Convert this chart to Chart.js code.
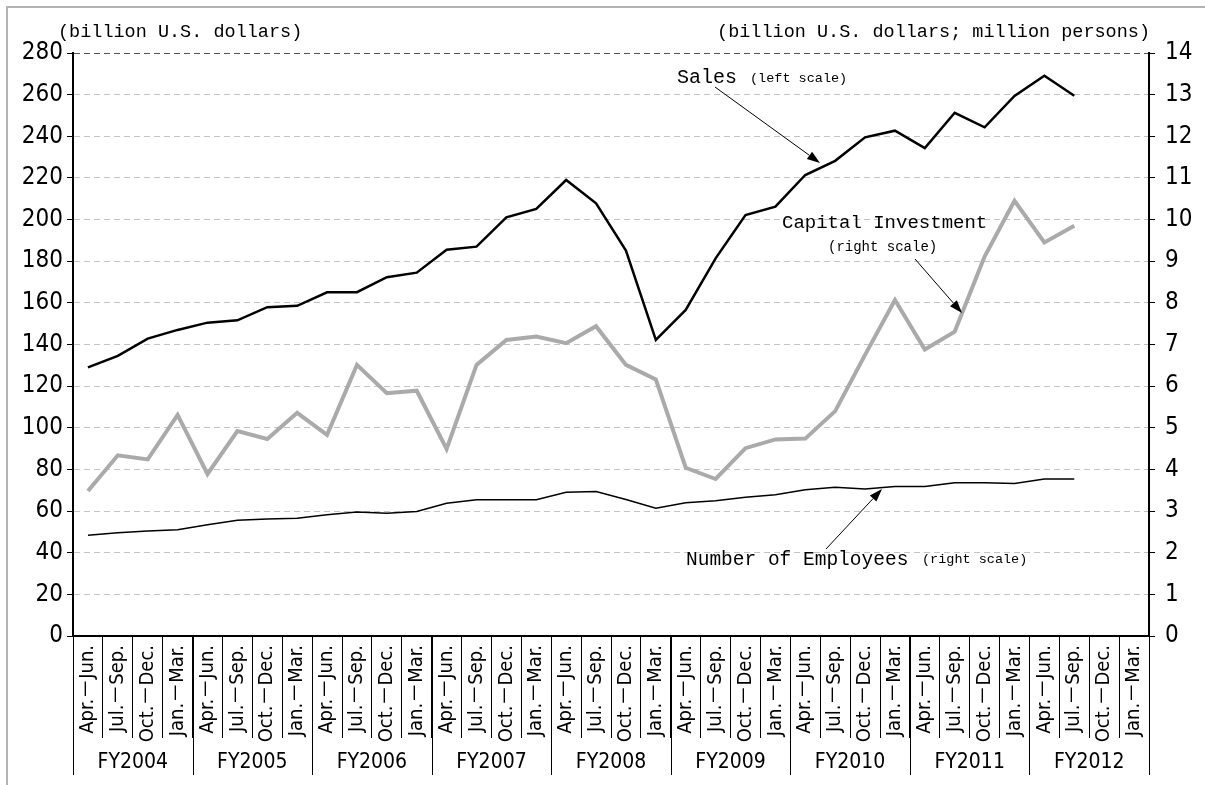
<!DOCTYPE html>
<html>
<head>
<meta charset="utf-8">
<script src="https://cdn.jsdelivr.net/npm/chart.js@4/dist/chart.umd.min.js"></script>
<style>
  html, body { margin: 0; padding: 0; background: #fff; }
  #wrap { width: 1205px; height: 785px; }
</style>
</head>
<body>
<div id="wrap"><canvas id="chart" width="1205" height="785"></canvas></div>
<script>
// quarters on the x axis (4 per fiscal year, FY2004 - FY2012)
const quarters = ['Apr.－Jun.', 'Jul.－Sep.', 'Oct.－Dec.', 'Jan.－Mar.'];
const fiscalYears = ['FY2004', 'FY2005', 'FY2006', 'FY2007', 'FY2008', 'FY2009', 'FY2010', 'FY2011', 'FY2012'];
const quarterLabels = fiscalYears.flatMap(() => quarters);

// Sales, billion U.S. dollars (left scale)
const sales = [129, 134.5, 142.8, 147, 150.5, 151.6, 157.9, 158.6, 165.1, 165.1, 172.3, 174.5,
  185.5, 187, 201.1, 205.1, 219, 207.8, 185.1, 142.2, 156.6, 181.4, 202.2, 206.2,
  221.4, 228.2, 239.5, 242.7, 234.3, 251.3, 244.3, 259.4, 269.1, 259.5];

// Capital investment, billion U.S. dollars (right scale)
const capitalInvestment = [3.48, 4.34, 4.24, 5.31, 3.89, 4.92, 4.73, 5.36, 4.83, 6.51, 5.83, 5.89,
  4.49, 6.51, 7.11, 7.19, 7.03, 7.44, 6.51, 6.16, 4.04, 3.77, 4.51, 4.72,
  4.74, 5.4, 6.75, 8.07, 6.88, 7.31, 9.11, 10.45, 9.45, 9.85];

// Number of employees, million persons (right scale)
const employees = [2.42, 2.48, 2.52, 2.55, 2.67, 2.78, 2.81, 2.83, 2.91, 2.98, 2.95, 2.99,
  3.19, 3.27, 3.27, 3.27, 3.45, 3.47, 3.28, 3.07, 3.2, 3.25, 3.33, 3.39,
  3.51, 3.57, 3.53, 3.59, 3.59, 3.68, 3.68, 3.66, 3.77, 3.77];

const leftTicks = { min: 0, max: 280, step: 20 };
const rightTicks = { min: 0, max: 14, step: 1 };

const narrow = "'Liberation Sans Narrow', 'DejaVu Sans Condensed', 'Noto Sans CJK JP', sans-serif";
const mono = "'Liberation Mono', 'DejaVu Sans Mono', monospace";

function arrow(c, x1, y1, x2, y2) {
  const a = Math.atan2(y2 - y1, x2 - x1);
  const len = 13, w = 4.5;
  c.beginPath();
  c.moveTo(x1, y1);
  c.lineTo(x2 - Math.cos(a) * len, y2 - Math.sin(a) * len);
  c.stroke();
  c.beginPath();
  c.moveTo(x2, y2);
  c.lineTo(x2 - Math.cos(a) * len + Math.sin(a) * w, y2 - Math.sin(a) * len - Math.cos(a) * w);
  c.lineTo(x2 - Math.cos(a) * len - Math.sin(a) * w, y2 - Math.sin(a) * len + Math.cos(a) * w);
  c.closePath();
  c.fill();
}

// frame, fiscal year row, unit titles and the call-out labels
const decorations = {
  id: 'decorations',
  beforeDraw(chart) {
    const c = chart.ctx;
    c.save();
    c.fillStyle = '#fff';
    c.fillRect(0, 0, chart.width, chart.height);
    c.strokeStyle = '#b4b4b4';
    c.lineWidth = 2;
    c.beginPath();
    c.moveTo(7, chart.height);
    c.lineTo(7, 7);
    c.lineTo(chart.width, 7);
    c.stroke();
    c.restore();
  },
  afterDraw(chart) {
    const c = chart.ctx;
    const x = chart.scales.x;
    const area = chart.chartArea;
    const half = (x.getPixelForValue(1) - x.getPixelForValue(0)) / 2;
    c.save();

    // fiscal year groups under the quarter labels
    c.strokeStyle = '#000';
    c.lineWidth = 1;
    for (let k = 0; k <= fiscalYears.length; k++) {
      const px = Math.round(x.getPixelForValue(k * 4) - half) + 0.5;
      c.beginPath();
      c.moveTo(px, area.bottom);
      c.lineTo(px, 775);
      c.stroke();
    }
    c.fillStyle = '#000';
    c.font = '21px ' + narrow;
    c.textAlign = 'center';
    c.textBaseline = 'alphabetic';
    fiscalYears.forEach((fy, k) => {
      const px = (x.getPixelForValue(k * 4) + x.getPixelForValue(k * 4 + 3)) / 2;
      c.fillText(fy, px, 768);
    });

    // unit titles
    c.font = '18.5px ' + mono;
    c.textAlign = 'left';
    c.fillText('(billion U.S. dollars)', 58, 37);
    c.textAlign = 'right';
    c.fillText('(billion U.S. dollars; million persons)', 1150, 37);

    // call-outs
    c.textAlign = 'left';
    c.font = '20px ' + mono;
    c.fillText('Sales', 677, 83);
    c.font = '13.5px ' + mono;
    c.fillText('(left scale)', 750, 82);

    c.font = '19px ' + mono;
    c.fillText('Capital Investment', 782, 228);
    c.font = '14px ' + mono;
    c.fillText('(right scale)', 828, 251);

    c.font = '19.5px ' + mono;
    c.fillText('Number of Employees', 686, 565);
    c.font = '13.5px ' + mono;
    c.fillText('(right scale)', 922, 563);

    c.lineWidth = 1;
    arrow(c, 715, 87, 820, 163);
    arrow(c, 915, 259, 962, 313);
    arrow(c, 826, 549, 882, 489);

    c.restore();
  }
};

new Chart(document.getElementById('chart'), {
  type: 'line',
  data: {
    labels: quarterLabels,
    datasets: [
      {
        label: 'Sales (left scale)',
        data: sales,
        yAxisID: 'y',
        borderColor: '#000',
        borderWidth: 2.5,
        pointRadius: 0,
        tension: 0
      },
      {
        label: 'Capital Investment (right scale)',
        data: capitalInvestment,
        yAxisID: 'y1',
        borderColor: '#aaaaaa',
        borderWidth: 4,
        pointRadius: 0,
        tension: 0
      },
      {
        label: 'Number of Employees (right scale)',
        data: employees,
        yAxisID: 'y1',
        borderColor: '#000',
        borderWidth: 1.5,
        pointRadius: 0,
        tension: 0
      }
    ]
  },
  options: {
    responsive: false,
    animation: false,
    devicePixelRatio: 1,
    layout: { padding: { top: 53, left: 0, right: 0, bottom: 0 } },
    plugins: {
      legend: { display: false },
      tooltip: { enabled: false }
    },
    scales: {
      x: {
        offset: true,
        grid: {
          offset: true,
          drawOnChartArea: false,
          drawTicks: true,
          tickLength: 102,
          tickColor: '#000',
          tickWidth: 1
        },
        border: { display: true, color: '#000', width: 2 },
        ticks: {
          autoSkip: false,
          minRotation: 90,
          maxRotation: 90,
          padding: -93,
          color: '#000',
          font: { family: narrow, size: 20 }
        },
        afterFit(s) { s.height = 149; }
      },
      y: {
        position: 'left',
        min: leftTicks.min,
        max: leftTicks.max,
        ticks: {
          stepSize: leftTicks.step,
          color: '#000',
          padding: 4,
          font: { family: narrow, size: 24 }
        },
        grid: {
          color: ctx => (ctx.tick && ctx.tick.value === leftTicks.max ? '#555' : '#c4c4c4'),
          lineWidth: 1,
          tickLength: 6,
          tickColor: '#000',
          tickBorderDash: []
        },
        border: { display: true, color: '#000', width: 2, dash: [6, 4] },
        afterFit(s) { s.width = 73; }
      },
      y1: {
        position: 'right',
        min: rightTicks.min,
        max: rightTicks.max,
        ticks: {
          stepSize: rightTicks.step,
          color: '#000',
          padding: 10,
          font: { family: narrow, size: 24 }
        },
        grid: {
          drawOnChartArea: false,
          tickLength: 6,
          tickColor: '#000'
        },
        border: { display: true, color: '#000', width: 2 },
        afterFit(s) { s.width = 56; }
      }
    }
  },
  plugins: [decorations]
});
</script>
</body>
</html>
